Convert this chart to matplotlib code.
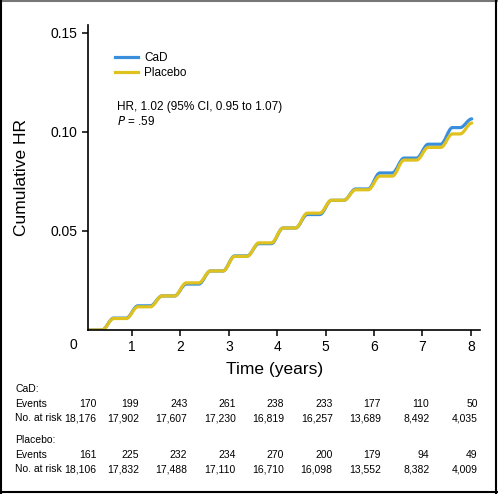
import matplotlib
matplotlib.use("Agg")
import matplotlib.pyplot as plt
import matplotlib.transforms as mtransforms
from matplotlib.path import Path
from matplotlib.patches import PathPatch
from matplotlib.lines import Line2D

# ---- data ----
# times (years) of each step and cumulative HR level before / after each step
step_times = [0.5, 1.0, 1.5, 2.0, 2.5, 3.0, 3.5, 4.0, 4.5, 5.0, 5.5, 6.0, 6.5, 7.0, 7.5, 7.9]
cad_levels = [0.0, 0.0060, 0.0122, 0.0172, 0.0232, 0.0298, 0.0374, 0.0436, 0.0515,
              0.0583, 0.0655, 0.0712, 0.0793, 0.0868, 0.0938, 0.1022, 0.1066]
placebo_levels = [0.0, 0.0058, 0.0117, 0.0172, 0.0238, 0.0298, 0.0372, 0.0440, 0.0515,
                  0.0590, 0.0655, 0.0708, 0.0777, 0.0858, 0.0922, 0.0990, 0.1045]

years = [0, 1, 2, 3, 4, 5, 6, 7, 8]
cad_events = ["170", "199", "243", "261", "238", "233", "177", "110", "50"]
cad_risk = ["18,176", "17,902", "17,607", "17,230", "16,819", "16,257", "13,689", "8,492", "4,035"]
placebo_events = ["161", "225", "232", "234", "270", "200", "179", "94", "49"]
placebo_risk = ["18,106", "17,832", "17,488", "17,110", "16,710", "16,098", "13,552", "8,382", "4,009"]

blue = "#3a8fdc"
yellow = "#e0c21e"
font = ["Liberation Sans", "DejaVu Sans"]


# smooth (S-shaped) steps between plateaus, like the published figure
def smooth_steps(times, levels, hw=0.12):
    verts = [(0.0, levels[0])]
    codes = [Path.MOVETO]
    for t, lo, hi in zip(times, levels[:-1], levels[1:]):
        verts += [(t - hw, lo), (t - hw * 0.3, lo), (t + hw * 0.3, hi), (t + hw, hi)]
        codes += [Path.LINETO, Path.CURVE4, Path.CURVE4, Path.CURVE4]
    return Path(verts, codes)


fig = plt.figure(figsize=(4.98, 4.94), dpi=100)
ax = fig.add_axes([88 / 498, 164 / 494, 392 / 498, 305 / 494])

for levels, col in [(cad_levels, blue), (placebo_levels, yellow)]:
    ax.add_patch(PathPatch(smooth_steps(step_times, levels), fill=False, edgecolor=col,
                           lw=2.3, capstyle="round", joinstyle="round"))

ax.set_xlim(0.09, 8.19)
ax.set_ylim(0, 0.154)
ax.spines["top"].set_visible(False)
ax.spines["right"].set_visible(False)
ax.spines["left"].set_linewidth(1.2)
ax.spines["bottom"].set_linewidth(1.2)
ax.set_xticks(years[1:])
ax.set_yticks([0.05, 0.10, 0.15])
ax.set_yticklabels(["0.05", "0.10", "0.15"])
ax.tick_params(direction="out", length=4, width=1.1, pad=3.5, labelsize=10)
for lab in ax.get_xticklabels() + ax.get_yticklabels():
    lab.set_family(font)
ax.annotate("0", xy=(0, 0), xycoords="axes fraction", xytext=(-15, -15),
            textcoords="offset pixels", ha="center", va="center", fontsize=10, family=font)

fig.text(22 / 498, 1 - 178 / 494, "Cumulative HR", rotation=90, ha="center", va="center",
         fontsize=12.5, family=font)
fig.text(275 / 498, 1 - 369 / 494, "Time (years)", ha="center", va="center",
         fontsize=12.5, family=font)

handles = [Line2D([], [], color=blue, lw=2.3), Line2D([], [], color=yellow, lw=2.3)]
ax.legend(handles, ["CaD", "Placebo"], loc="upper left", bbox_to_anchor=(0.068, 0.91),
          frameon=False, borderpad=0, borderaxespad=0, handlelength=2.0, handletextpad=0.5,
          labelspacing=0.25, prop={"family": font, "size": 8.5})
ax.text(117 / 498, 1 - 107 / 494, "HR, 1.02 (95% CI, 0.95 to 1.07)", transform=fig.transFigure,
        ha="left", va="center", fontsize=8.5, family=font)
ax.text(117 / 498, 1 - 121 / 494, "$\\it{P}$ = .59", transform=fig.transFigure,
        ha="left", va="center", fontsize=8.5, family=font)

# number-at-risk table under the plot
col_tr = mtransforms.blended_transform_factory(ax.transData, fig.transFigure)
rows = [("CaD:", None, 389), ("Events", cad_events, 404), ("No. at risk", cad_risk, 418),
        ("Placebo:", None, 440), ("Events", placebo_events, 455), ("No. at risk", placebo_risk, 469)]
for label, vals, ypx in rows:
    yf = 1 - ypx / 494
    fig.text(15 / 498, yf, label, ha="left", va="center", fontsize=7.5, family=font)
    if vals is None:
        continue
    for t, v in zip(years, vals):
        dx = 13 if t == 0 else 7
        tr = col_tr + mtransforms.ScaledTranslation(dx / 100, 0, fig.dpi_scale_trans)
        ax.text(t, yf, v, transform=tr, ha="right", va="center", fontsize=7.5,
                family=font, clip_on=False)

# frame around the whole figure
fig.add_artist(Line2D([0, 1], [0.998, 0.998], transform=fig.transFigure, color="#777777", lw=1.5))
for xs, ys in [([0.002, 0.002], [0, 1]), ([0.996, 0.996], [0, 1]), ([0, 1], [0.004, 0.004])]:
    fig.add_artist(Line2D(xs, ys, transform=fig.transFigure, color="black", lw=1.5))

fig.savefig("out.png", dpi=100)
